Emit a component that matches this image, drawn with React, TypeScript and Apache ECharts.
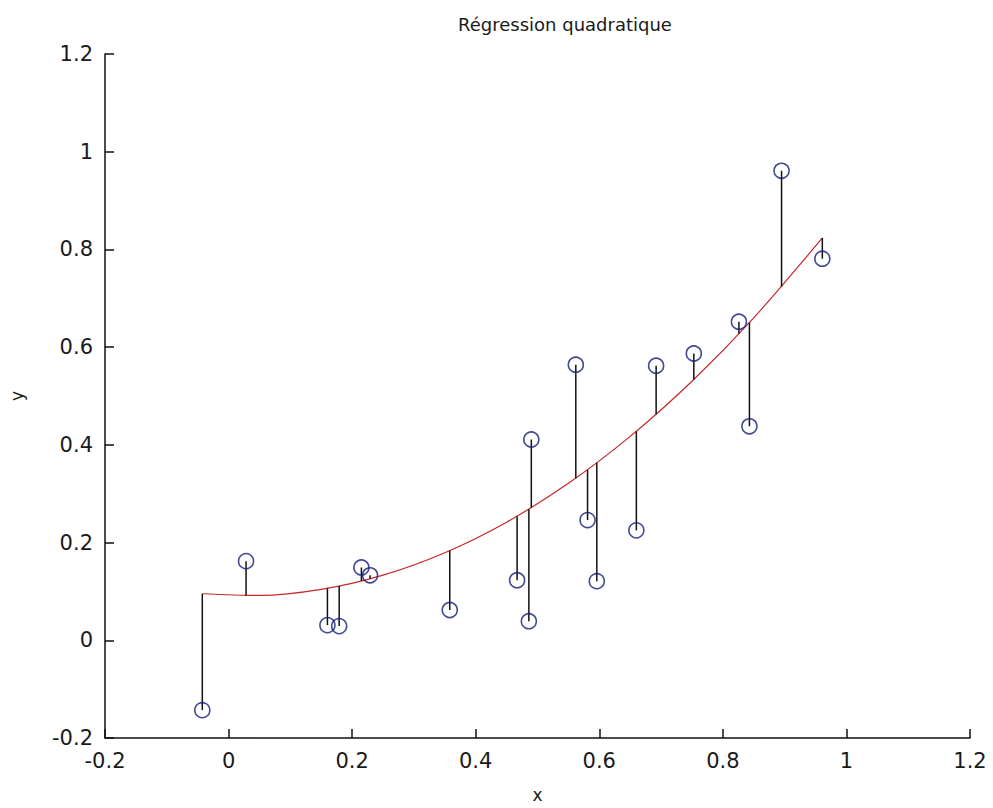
import React, { useEffect, useRef } from "react";
import * as echarts from "echarts";

const xObs = [-0.0425, 0.0283, 0.16, 0.179, 0.215, 0.229, 0.358, 0.467, 0.486, 0.49, 0.562, 0.581, 0.596, 0.66, 0.692, 0.753, 0.826, 0.843, 0.895, 0.961];
const yObs = [-0.143, 0.162, 0.031, 0.029, 0.149, 0.133, 0.062, 0.123, 0.039, 0.411, 0.564, 0.246, 0.121, 0.225, 0.562, 0.587, 0.652, 0.438, 0.961, 0.781];
// Fitted values at each observation (foot of each residual stem)
const yFit = [0.0953, 0.0913, 0.1063, 0.1109, 0.1212, 0.1258, 0.1836, 0.2541, 0.2684, 0.2715, 0.3318, 0.3492, 0.3633, 0.4279, 0.4627, 0.5339, 0.6273, 0.6503, 0.7238, 0.8235];
// Regression curve samples
const curveX = [-0.0425, 0.05, 0.15, 0.25, 0.35, 0.45, 0.55, 0.65, 0.75, 0.85, 0.961];
const curveY = [0.0953, 0.0918, 0.1042, 0.1333, 0.1792, 0.2418, 0.3212, 0.4174, 0.5303, 0.66, 0.8235];
// Axes
const xTicks = [-0.2, 0, 0.2, 0.4, 0.6, 0.8, 1, 1.2];
const yTicks = [-0.2, 0, 0.2, 0.4, 0.6, 0.8, 1, 1.2];

const FONT = "DejaVu Sans";

export default function App() {
  const ref = useRef<HTMLDivElement>(null);
  useEffect(() => {
    document.body.style.margin = "0";
    const chart = echarts.init(ref.current!, null, { renderer: "svg" });
    const fmt = (v: number) => String(+v.toFixed(1));
    const axisCommon = {
      type: "value" as const,
      interval: 0.2,
      axisLine: { show: true, onZero: false, lineStyle: { color: "#111", width: 1.5 } },
      axisTick: { show: true, inside: true, length: 9, lineStyle: { color: "#111", width: 1.5 } },
      splitLine: { show: false },
      axisLabel: { formatter: fmt, color: "#1a1a1a", fontFamily: FONT, fontSize: 21 },
    };
    chart.setOption({
      animation: false,
      backgroundColor: "#fff",
      title: {
        text: "Régression quadratique",
        left: 560,
        textAlign: "center",
        top: 10,
        textStyle: { fontFamily: FONT, fontSize: 18, fontWeight: "normal", color: "#1a1a1a" },
      },
      grid: { left: 100, right: 23, top: 54, bottom: 69, containLabel: false },
      xAxis: {
        ...axisCommon,
        min: xTicks[0],
        max: xTicks[xTicks.length - 1],
        axisLabel: { ...axisCommon.axisLabel, margin: 12 },
        name: "x",
        nameLocation: "middle",
        nameGap: 48,
        nameTextStyle: { fontFamily: FONT, fontSize: 17, color: "#1a1a1a" },
      },
      yAxis: {
        ...axisCommon,
        min: yTicks[0],
        max: yTicks[yTicks.length - 1],
        axisLabel: { ...axisCommon.axisLabel, margin: 12 },
        name: "y",
        nameLocation: "middle",
        nameGap: 80,
        nameRotate: 90,
        nameTextStyle: { fontFamily: FONT, fontSize: 17, color: "#1a1a1a" },
      },
      series: [
        {
          type: "line",
          data: curveX.map((x, i) => [x, curveY[i]]),
          smooth: 0.3,
          showSymbol: false,
          symbol: "none",
          lineStyle: { color: "#c62828", width: 1.2 },
          z: 2,
        },
        {
          type: "custom",
          data: xObs.map((x, i) => [x, yObs[i], yFit[i]]),
          renderItem: (params: any, api: any) => {
            const p1 = api.coord([api.value(0), api.value(1)]);
            const p2 = api.coord([api.value(0), api.value(2)]);
            return {
              type: "line",
              shape: { x1: p1[0], y1: p1[1], x2: p2[0], y2: p2[1] },
              style: { stroke: "#111", lineWidth: 1.5 },
            };
          },
          z: 3,
        },
        {
          type: "scatter",
          data: xObs.map((x, i) => [x, yObs[i]]),
          symbol: "circle",
          symbolSize: 15,
          itemStyle: { color: "transparent", borderColor: "#141c78", borderWidth: 1.6 },
          z: 4,
        },
      ],
    });
    return () => chart.dispose();
  }, []);
  return <div ref={ref} style={{ width: 993, height: 808 }} />;
}
